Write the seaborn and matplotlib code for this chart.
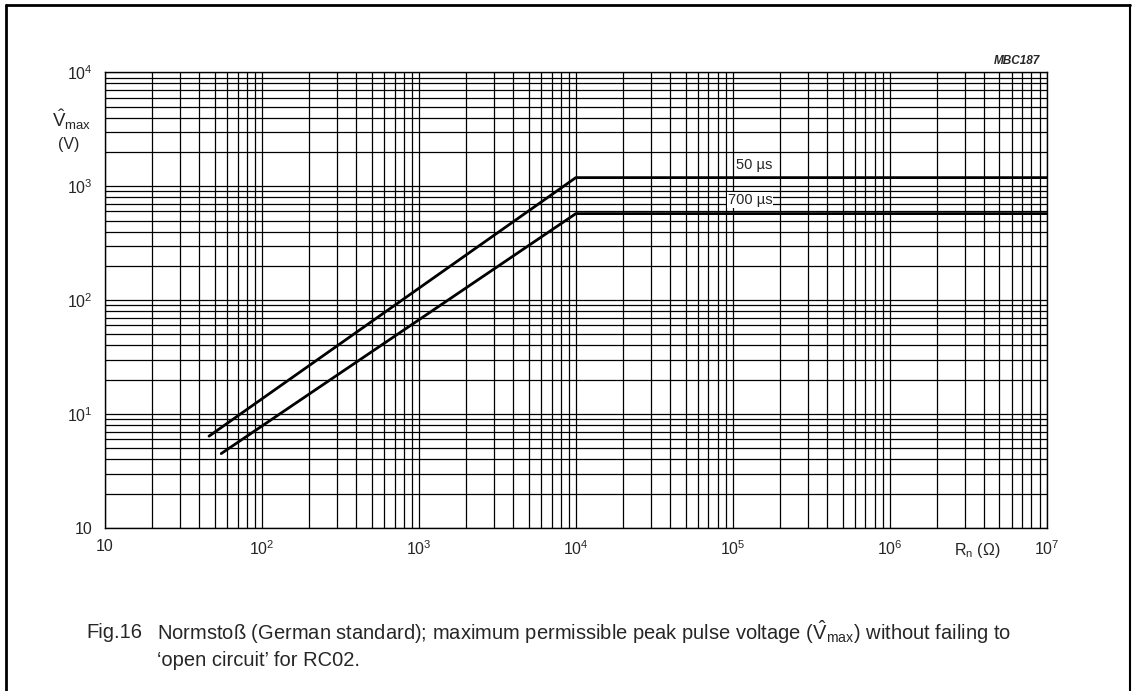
import matplotlib
matplotlib.use("Agg")
import matplotlib.pyplot as plt
from matplotlib.lines import Line2D
from matplotlib.ticker import LogLocator, FixedLocator, NullFormatter
import seaborn as sns
import pandas as pd

# ---- data ----
r_50us = [46, 1e4, 1e7]
v_50us = [6.4, 1190, 1190]
r_700us = [55, 1e4, 1e7]
v_700us = [4.5, 575, 575]
series_names = ["50 µs", "700 µs"]

x_ticks = [10, 1e2, 1e3, 1e4, 1e5, 1e6, 1e7]
x_tick_labels = ["10", "$10^2$", "$10^3$", "$10^4$", "$10^5$", "$10^6$", "$10^7$"]
y_ticks = [1, 10, 100, 1000, 10000]
y_tick_labels = ["10", "$10^1$", "$10^2$", "$10^3$", "$10^4$"]

df = pd.DataFrame({
    "R": r_50us + r_700us,
    "V": v_50us + v_700us,
    "pulse": [series_names[0]] * len(r_50us) + [series_names[1]] * len(r_700us),
})

sns.set_style("white")
plt.rcParams["font.family"] = ["Liberation Sans", "DejaVu Sans"]
plt.rcParams["mathtext.fontset"] = "custom"
plt.rcParams["mathtext.rm"] = "Liberation Sans"
plt.rcParams["mathtext.it"] = "Liberation Sans:italic"
plt.rcParams["mathtext.bf"] = "Liberation Sans:bold"

W, H = 1135, 691
fig = plt.figure(figsize=(W / 100, H / 100), dpi=100)
ax = fig.add_axes([105 / W, 1 - 528 / H, (1046.7 - 105) / W, (528 - 72.3) / H])

sns.lineplot(data=df, x="R", y="V", hue="pulse", palette=["black", "black"],
             linewidth=2.0, legend=False, ax=ax, sort=False, estimator=None)

ax.set_xscale("log")
ax.set_yscale("log")
ax.set_xlim(10, 1e7)
ax.set_ylim(1, 1e4)

ax.xaxis.set_major_locator(FixedLocator(x_ticks))
ax.yaxis.set_major_locator(FixedLocator(y_ticks))
ax.set_xticklabels(x_tick_labels, fontsize=11.5)
ax.set_yticklabels(y_tick_labels, fontsize=11.5)
ax.xaxis.set_minor_locator(LogLocator(base=10, subs=range(2, 10), numticks=50))
ax.yaxis.set_minor_locator(LogLocator(base=10, subs=range(2, 10), numticks=50))
ax.xaxis.set_minor_formatter(NullFormatter())
ax.yaxis.set_minor_formatter(NullFormatter())
ax.tick_params(which="both", length=0)
ax.tick_params(axis="x", pad=8)
ax.tick_params(axis="y", pad=9)

ax.grid(which="both", color="black", linewidth=0.9)
ax.set_axisbelow(True)
for s in ax.spines.values():
    s.set_color("black")
    s.set_linewidth(1.0)

ax.set_xlabel("")
ax.set_ylabel("")

# series labels
ax.text(1.05e5, 1535, series_names[0], fontsize=10.5, ha="left", va="center",
        bbox=dict(facecolor="white", edgecolor="none", pad=0.5))
ax.text(9.3e4, 755, series_names[1], fontsize=10.5, ha="left", va="center",
        bbox=dict(facecolor="white", edgecolor="none", pad=0.5))

# axis titles
fig.text(72 / W, 1 - 120 / H, r"$\hat{\mathrm{V}}_{\mathrm{max}}$", fontsize=13.5,
         ha="center", va="center")
fig.text(69 / W, 1 - 145 / H, "(V)", fontsize=11.5, ha="center", va="center")
fig.text(977 / W, 1 - 550 / H, r"R$_{\mathrm{n}}$ (Ω)", fontsize=11.5,
         ha="center", va="center")

# code label
fig.text(1040 / W, 1 - 61 / H, "MBC187", fontsize=8.5, fontweight="bold",
         fontstyle="italic", ha="right", va="center")

# caption
cap_font = ["Liberation Sans", "DejaVu Sans"]
fig.text(86 / W, 1 - 632 / H, "Fig.16", fontsize=14.5, family=cap_font,
         ha="left", va="center")
fig.text(157 / W, 1 - 632 / H,
         r"Normstoß (German standard); maximum permissible peak pulse voltage "
         r"($\hat{\mathrm{V}}_{\mathrm{max}}$) without failing to",
         fontsize=14.5, family=cap_font, ha="left", va="center")
fig.text(157 / W, 1 - 661 / H, "‘open circuit’ for RC02.", fontsize=14.5,
         family=cap_font, ha="left", va="center")

# outer frame
fig.add_artist(Line2D([6 / W, 6 / W], [0, 1 - 5 / H], transform=fig.transFigure,
                      color="black", linewidth=2.0))
fig.add_artist(Line2D([6 / W, 1130 / W], [1 - 5 / H, 1 - 5 / H],
                      transform=fig.transFigure, color="black", linewidth=2.0))
fig.add_artist(Line2D([1130 / W, 1130 / W], [0, 1 - 5 / H],
                      transform=fig.transFigure, color="black", linewidth=1.5))

fig.savefig("out.png", dpi=100, facecolor="white")
